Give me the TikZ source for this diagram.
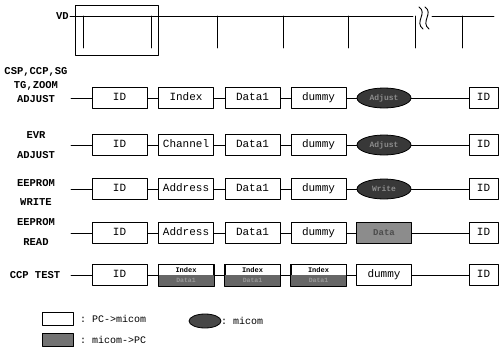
\documentclass[tikz,border=0pt]{standalone}
\usepackage{fontspec}
\setmonofont{Liberation Mono}
\usetikzlibrary{shapes.geometric}

\begin{document}
\begin{tikzpicture}[
    x=1pt,
    y=-1pt,
    line cap=round,
    line join=round,
    thin line/.style={line width=0.7pt},
    pkt/.style={draw,line width=0.8pt,minimum width=55pt,minimum height=21pt,
        inner sep=0pt,text height=7.5pt,text depth=2pt,
        font=\ttfamily\fontsize{11}{12}\selectfont},
    lastpkt/.style={pkt,minimum width=29pt},
    ret/.style={pkt,fill=black!45,text=black!70,font=\ttfamily\bfseries\fontsize{9}{10}\selectfont},
    ans/.style={ellipse,draw,line width=0.8pt,fill=black!78,minimum width=54pt,
        minimum height=20pt,inner sep=0pt,text=black!45,
        font=\ttfamily\bfseries\fontsize{8}{9}\selectfont},
    rowlbl/.style={align=center,font=\ttfamily\bfseries\fontsize{10.5}{14}\selectfont},
    legtxt/.style={anchor=west,inner sep=0pt,font=\ttfamily\fontsize{10}{12}\selectfont}
]
\useasboundingbox (0,0) rectangle (502,361);

% -------------------------------------------------
% VD
% -------------------------------------------------

\node[rowlbl,anchor=east,inner sep=1pt] (vd) at (70,16) {VD};
\coordinate (brkA) at (413,16);
\coordinate (brkB) at (432,16);
\coordinate (vdEnd) at (494,16);
\draw[thin line] (vd.east) -- (brkA);
\draw[thin line] (brkB) -- (vdEnd);
\draw[line width=0.8pt] (75,5) rectangle (158,55);
\foreach \tx in {83,151,217,283,348,415,462}
    \draw[thin line] (\tx,16) -- (\tx,48);

% разрыв
\draw[line width=0.9pt] (419,7) .. controls (428,13) and (414,22) .. (423,29);
\draw[line width=0.9pt] (425,7) .. controls (434,13) and (420,22) .. (429,29);

% -------------------------------------------------
% Ряд 1: CSP,CCP,SG / TG,ZOOM ADJUST
% -------------------------------------------------

\node[rowlbl] (lbA) at (36,85) {CSP,CCP,SG\\TG,ZOOM\\ADJUST};
\coordinate (sA) at (71,98);
\node[pkt] (idA)  at (119.5,98) {ID};
\node[pkt] (ixA)  at (186,98)   {Index};
\node[pkt] (dtA)  at (252.5,98) {Data1};
\node[pkt] (dmA)  at (318.5,98) {dummy};
\node[ans] (anA)  at (384,98)   {Adjust};
\node[lastpkt] (enA) at (483.5,98) {ID};
\draw[thin line] (sA) -- (idA) -- (ixA) -- (dtA) -- (dmA) -- (anA) -- (enA);

% -------------------------------------------------
% Ряд 2: EVR ADJUST
% -------------------------------------------------

\node[rowlbl,font=\ttfamily\bfseries\fontsize{10.5}{20}\selectfont] (lbB) at (36,145) {EVR\\ADJUST};
\coordinate (sB) at (71,145);
\node[pkt] (idB)  at (119.5,145) {ID};
\node[pkt] (ixB)  at (186,145)   {Channel};
\node[pkt] (dtB)  at (252.5,145) {Data1};
\node[pkt] (dmB)  at (318.5,145) {dummy};
\node[ans] (anB)  at (384,145)   {Adjust};
\node[lastpkt] (enB) at (483.5,145) {ID};
\draw[thin line] (sB) -- (idB) -- (ixB) -- (dtB) -- (dmB) -- (anB) -- (enB);

% -------------------------------------------------
% Ряд 3: EEPROM WRITE
% -------------------------------------------------

\node[rowlbl,font=\ttfamily\bfseries\fontsize{10.5}{19}\selectfont] (lbC) at (36,192) {EEPROM\\WRITE};
\coordinate (sC) at (71,189);
\node[pkt] (idC)  at (119.5,189) {ID};
\node[pkt] (ixC)  at (186,189)   {Address};
\node[pkt] (dtC)  at (252.5,189) {Data1};
\node[pkt] (dmC)  at (318.5,189) {dummy};
\node[ans] (anC)  at (384,189)   {Write};
\node[lastpkt] (enC) at (483.5,189) {ID};
\draw[thin line] (sC) -- (idC) -- (ixC) -- (dtC) -- (dmC) -- (anC) -- (enC);

% -------------------------------------------------
% Ряд 4: EEPROM READ
% -------------------------------------------------

\node[rowlbl,font=\ttfamily\bfseries\fontsize{10.5}{20}\selectfont] (lbD) at (36,232) {EEPROM\\READ};
\coordinate (sD) at (71,233);
\node[pkt] (idD)  at (119.5,233) {ID};
\node[pkt] (ixD)  at (186,233)   {Address};
\node[pkt] (dtD)  at (252.5,233) {Data1};
\node[pkt] (dmD)  at (318.5,233) {dummy};
\node[ret] (anD)  at (384,233)   {Data};
\node[lastpkt] (enD) at (483.5,233) {ID};
\draw[thin line] (sD) -- (idD) -- (ixD) -- (dtD) -- (dmD) -- (anD) -- (enD);

% -------------------------------------------------
% Ряд 5: CCP TEST
% -------------------------------------------------

\node[rowlbl] (lbE) at (35,275) {CCP TEST};
\coordinate (sE) at (71,275);
\node[pkt] (idE)  at (119.5,275) {ID};
\node[pkt] (ixE)  at (186,275)   {};
\node[pkt] (dtE)  at (252.5,275) {};
\node[pkt] (dmE)  at (318.5,275) {};
\node[pkt] (anE)  at (384,275)   {dummy};
\node[lastpkt] (enE) at (483.5,275) {ID};
\foreach \bx in {ixE,dtE,dmE} {
    \fill[black!60] (\bx.west) rectangle (\bx.south east);
    \draw[line width=0.8pt] (\bx.south west) rectangle (\bx.north east);
    \node[font=\ttfamily\bfseries\fontsize{7}{7}\selectfont,inner sep=0pt] (\bx top) at ([yshift=5pt]\bx.center) {Index};
    \node[font=\ttfamily\bfseries\fontsize{6.5}{7}\selectfont,inner sep=0pt,text=black!40] (\bx low) at ([yshift=-5pt]\bx.center) {Data1};
}
\draw[thin line] (sE) -- (idE) -- (ixE) -- (dtE) -- (dmE) -- (anE) -- (enE);

% -------------------------------------------------
% Легенда
% -------------------------------------------------

\node[draw,line width=0.8pt,minimum width=31pt,minimum height=13pt,inner sep=0pt] (lgW) at (58,319) {};
\node[legtxt] (lgWt) at (80,319) {: PC->micom};
\node[draw,line width=0.8pt,fill=black!55,minimum width=31pt,minimum height=13pt,inner sep=0pt] (lgS) at (58,340) {};
\node[legtxt] (lgSt) at (80,340) {: micom->PC};
\node[ellipse,draw,line width=0.8pt,fill=black!72,minimum width=32pt,minimum height=14pt,inner sep=0pt] (lgE) at (205,321) {};
\node[legtxt] (lgEt) at (221,321) {: micom};

\end{tikzpicture}
\end{document}
